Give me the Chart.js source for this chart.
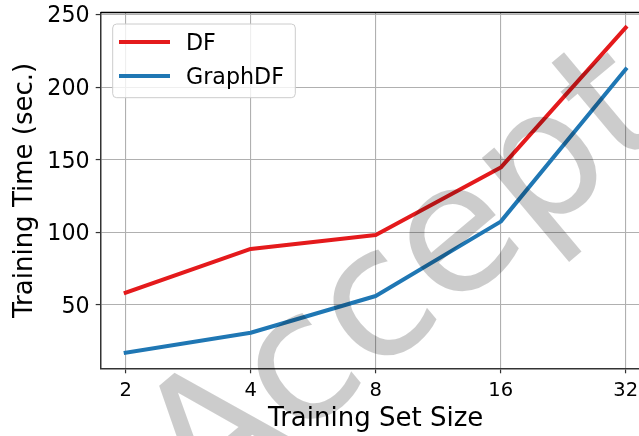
<!DOCTYPE html>
<html>
<head>
<meta charset="utf-8">
<script src="https://cdn.jsdelivr.net/npm/chart.js@4"></script>
<style>
  html, body { margin: 0; padding: 0; background: #fff; overflow: hidden; }
  /* canvas is a bit wider than the window: the right spine falls off-screen like in the original */
  #wrap { width: 660px; height: 436px; }
</style>
</head>
<body>
<div id="wrap"><canvas id="chart" width="660" height="436"></canvas></div>
<script>
// data
const trainSizes = [2, 4, 8, 16, 32];
const dfTimes = [58.5, 88.6, 98.2, 144.6, 241.0];
const graphDfTimes = [17.1, 30.9, 56.2, 107.4, 212.3];
const yTicks = [50, 100, 150, 200, 250];
const seriesNames = ["DF", "GraphDF"];
const seriesColors = ["#e41a1c", "#1f77b4"];

const FONT = "'DejaVu Sans', sans-serif";

// legend box like matplotlib's (frame, alpha 0.8)
const legendBox = {
  id: "legendBox",
  afterDatasetsDraw(chart) {
    const ctx = chart.ctx;
    ctx.save();
    ctx.beginPath();
    ctx.roundRect(112.7, 24, 182.6, 73.7, 4);
    ctx.fillStyle = "rgba(255,255,255,0.8)";
    ctx.fill();
    ctx.lineWidth = 1;
    ctx.strokeStyle = "#cccccc";
    ctx.stroke();
    ctx.font = "22.2px " + FONT;
    ctx.textBaseline = "alphabetic";
    ctx.textAlign = "left";
    chart.data.datasets.forEach((ds, i) => {
      const y = 42 + i * 34;
      ctx.beginPath();
      ctx.moveTo(119, y);
      ctx.lineTo(170, y);
      ctx.lineWidth = 4;
      ctx.lineCap = "butt";
      ctx.strokeStyle = ds.borderColor;
      ctx.stroke();
      ctx.fillStyle = "#000";
      ctx.fillText(ds.label, 186, y + 8);
    });
    ctx.restore();
  },
};

// top spine + the grey "Accept" stamp over everything
const frameAndStamp = {
  id: "frameAndStamp",
  afterDraw(chart) {
    const ctx = chart.ctx;
    const a = chart.chartArea;
    ctx.save();
    ctx.beginPath();
    ctx.moveTo(a.left, a.top);
    ctx.lineTo(a.right, a.top);
    ctx.lineWidth = 1.3;
    ctx.strokeStyle = "#000";
    ctx.stroke();

    ctx.translate(439, 322);
    ctx.rotate(-40 * Math.PI / 180);
    ctx.font = "180px " + FONT;
    ctx.textAlign = "center";
    ctx.textBaseline = "alphabetic";
    ctx.fillStyle = "rgba(0,0,0,0.2)";
    ctx.fillText("Accept", 0, 0);
    ctx.restore();
  },
};

const noPad = s => { s.paddingTop = 0; s.paddingBottom = 0; s.paddingLeft = 0; s.paddingRight = 0; };

const datasets = [dfTimes, graphDfTimes].map((vals, i) => ({
  label: seriesNames[i],
  data: trainSizes.map((x, j) => ({ x, y: vals[j] })),
  borderColor: seriesColors[i],
  backgroundColor: seriesColors[i],
  borderWidth: 4,
  pointRadius: 0,
  tension: 0,
  fill: false,
  borderCapStyle: "square",
  borderJoinStyle: "round",
}));

new Chart(document.getElementById("chart"), {
  type: "line",
  data: { datasets },
  plugins: [legendBox, frameAndStamp],
  options: {
    responsive: false,
    animation: false,
    devicePixelRatio: 1,
    layout: { padding: { top: 12.5, right: 9.3, left: 0, bottom: 0 } },
    plugins: { legend: { display: false }, tooltip: { enabled: false } },
    scales: {
      x: {
        type: "logarithmic",
        min: 1.741,
        max: 36.76,
        afterBuildTicks: s => { s.ticks = trainSizes.map(v => ({ value: v })); },
        afterFit: s => { s.height = 67.7; noPad(s); },
        ticks: {
          callback: v => String(v),
          autoSkip: false,
          maxRotation: 0,
          color: "#000",
          padding: 6,
          font: { family: FONT, size: 19.5 },
        },
        grid: { color: "#b0b0b0", lineWidth: 1.1, drawTicks: true, tickLength: 5, tickColor: "#333", tickWidth: 1.2 },
        border: { color: "#333", width: 1.5 },
        title: {
          display: true,
          text: "Training Set Size",
          color: "#000",
          font: { family: FONT, size: 26 },
          padding: { top: 0, bottom: 1 },
        },
      },
      y: {
        type: "linear",
        min: 6.4,
        max: 251.4,
        afterBuildTicks: s => { s.ticks = yTicks.map(v => ({ value: v })); },
        afterFit: s => { s.width = 100.7; noPad(s); },
        ticks: {
          color: "#000",
          padding: 6,
          labelOffset: 2,
          font: { family: FONT, size: 22.2 },
        },
        grid: { color: "#b0b0b0", lineWidth: 1.1, drawTicks: true, tickLength: 5, tickColor: "#333", tickWidth: 1.2 },
        border: { color: "#333", width: 1.5 },
        title: {
          display: true,
          text: "Training Time (sec.)",
          color: "#000",
          font: { family: FONT, size: 26 },
          padding: { top: 10.1, bottom: 0 },
        },
      },
    },
  },
});
</script>
</body>
</html>
